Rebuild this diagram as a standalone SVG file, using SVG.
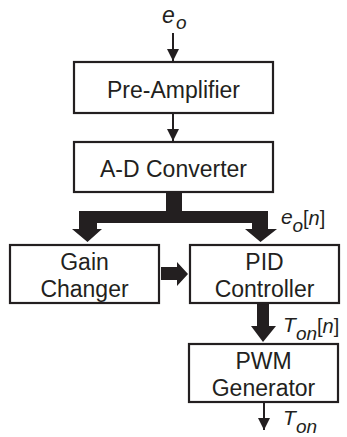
<svg xmlns="http://www.w3.org/2000/svg" width="347" height="437" viewBox="0 0 347 437">
<style>
.box{fill:#fff;stroke:#231f20;stroke-width:2.2}
.t{font-family:"Liberation Sans",Arial,sans-serif;font-size:23px;fill:#231f20;text-anchor:middle}
.lbl{font-family:"Liberation Sans",Arial,sans-serif;fill:#231f20}
.it{font-style:italic}
.ln{stroke:#231f20;stroke-width:2;fill:none}
.fat{fill:#231f20}
</style>
<defs>
<marker id="ah" markerUnits="userSpaceOnUse" markerWidth="12" markerHeight="13" refX="12" refY="6" orient="auto">
<path d="M0,0 L12,6 L0,12 Z" fill="#231f20"/>
</marker>
</defs>
<g id="connectors">
<line class="ln" x1="173" y1="33" x2="173" y2="61" marker-end="url(#ah)"/>
<line class="ln" x1="173" y1="113" x2="173" y2="141" marker-end="url(#ah)"/>
<path class="fat" d="M166,192 H182 V211 H268 V229 H277 L260.5,242 L245,229 H252 V223 H97 V229 H102 L87.5,242 L72,229 H79 V211 H166 Z"/>
<path class="fat" d="M161,267 H177 V262 L188,274 L177,286 V280 H161 Z"/>
<path class="fat" d="M257,303 H269 V326 H276 L263,342 L251,326 H257 Z"/>
<line class="ln" x1="264" y1="402" x2="264" y2="430" marker-end="url(#ah)"/>
</g>
<g id="label-eo-in">
<text class="lbl it" x="162" y="23" font-size="23">e</text>
<text class="lbl it" x="176" y="28.5" font-size="19">o</text>
</g>
<g id="pre-amplifier">
<rect class="box" x="74" y="62" width="199" height="51"/>
<text class="t" x="173.5" y="97.5">Pre-Amplifier</text>
</g>
<g id="ad-converter">
<rect class="box" x="74" y="142" width="199" height="50"/>
<text class="t" x="173.5" y="177">A-D Converter</text>
</g>
<g id="label-eon">
<text class="lbl it" x="281" y="224" font-size="21">e</text>
<text class="lbl it" x="292.5" y="232" font-size="19">o</text>
<text class="lbl" x="303" y="224.5" font-size="20">[<tspan class="it">n</tspan>]</text>
</g>
<g id="gain-changer">
<rect class="box" x="10" y="245" width="149" height="58"/>
<text class="t" x="84.5" y="270">Gain</text>
<text class="t" x="84.5" y="296.5">Changer</text>
</g>
<g id="pid-controller">
<rect class="box" x="190" y="245" width="149" height="58"/>
<text class="t" x="264.5" y="270">PID</text>
<text class="t" x="264.5" y="296.5">Controller</text>
</g>
<g id="label-ton-n">
<text class="lbl it" x="283" y="332" font-size="21">T</text>
<text class="lbl it" x="296" y="340" font-size="19">on</text>
<text class="lbl" x="317" y="332.5" font-size="20">[<tspan class="it">n</tspan>]</text>
</g>
<g id="pwm-generator">
<rect class="box" x="189" y="344" width="149" height="58"/>
<text class="t" x="263.5" y="368.5">PWM</text>
<text class="t" x="263.5" y="395.5">Generator</text>
</g>
<g id="label-ton">
<text class="lbl it" x="283" y="425" font-size="21">T</text>
<text class="lbl it" x="296" y="432.5" font-size="19">on</text>
</g>
</svg>
